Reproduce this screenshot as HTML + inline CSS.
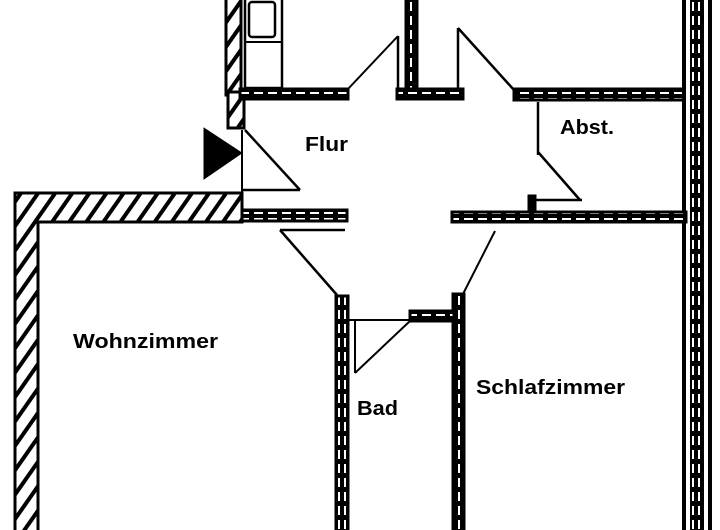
<!DOCTYPE html>
<html><head><meta charset="utf-8"><style>
html,body{margin:0;padding:0;background:#fff;width:720px;height:530px;overflow:hidden}
text{font-family:"Liberation Sans",sans-serif;font-weight:bold;fill:#000}
</style></head><body>
<svg width="720" height="530" viewBox="0 0 720 530" xmlns="http://www.w3.org/2000/svg">
<defs>
<pattern id="h" width="14" height="14" patternUnits="userSpaceOnUse" patternTransform="rotate(35)">
<rect width="14" height="14" fill="#fff"/><rect width="4" height="14" fill="#000"/>
</pattern>
<pattern id="d" width="14" height="6" patternUnits="userSpaceOnUse">
<rect width="14" height="6" fill="#000"/><rect x="2" y="2" width="9" height="2" fill="#fff"/>
</pattern>
<pattern id="v" width="6" height="14" patternUnits="userSpaceOnUse">
<rect width="6" height="14" fill="#000"/><rect x="2" y="2" width="2" height="9" fill="#fff"/>
</pattern>
</defs>
<g stroke="#000" stroke-width="3" fill="none">
<rect x="226" y="-5" width="15" height="100" fill="url(#h)"/>
<rect x="228" y="92" width="16" height="36" fill="url(#h)"/>
<rect x="245" y="-5" width="37" height="93" stroke-width="2.5"/>
<rect x="249" y="2" width="26" height="35" rx="3" stroke-width="2.5"/>
<line x1="245" y1="42" x2="282" y2="42" stroke-width="2"/>
<rect x="240" y="89" width="108" height="10" fill="url(#d)"/>
<line x1="348" y1="89" x2="398" y2="36" stroke-width="2"/>
<line x1="398" y1="36" x2="398" y2="90" stroke-width="2.5"/>
<rect x="406" y="-5" width="11" height="95" fill="url(#v)"/>
<rect x="397" y="89" width="66" height="10" fill="url(#d)"/>
<line x1="458" y1="28" x2="458" y2="88" stroke-width="2.5"/>
<line x1="458" y1="28" x2="514" y2="90" stroke-width="2.5"/>
<rect x="514" y="89" width="172" height="11" fill="url(#d)"/>
<rect x="684" y="-5" width="26" height="540" fill="#fff" stroke-width="4"/>
<rect x="690" y="-5" width="14" height="540" fill="url(#v)" stroke="none"/>
<line x1="538" y1="102" x2="538" y2="155" stroke-width="2.5"/>
<line x1="538" y1="152" x2="580" y2="200" stroke-width="2.5"/>
<line x1="530" y1="200" x2="582" y2="200" stroke-width="2.5"/>
<rect x="529" y="196" width="6" height="16" fill="#000"/>
<rect x="452" y="212" width="234" height="10" fill="url(#d)"/>
<line x1="242" y1="130" x2="242" y2="195" stroke-width="2"/>
<line x1="245" y1="130" x2="300" y2="190" stroke-width="2.5"/>
<line x1="242" y1="190" x2="300" y2="190" stroke-width="2.5"/>
<polygon points="205,130 240,153 205,177" fill="#000"/>
<path d="M15,193 L242,193 L242,222 L38,222 L38,535 L15,535 Z" fill="url(#h)"/>
<rect x="242" y="210" width="105" height="11" fill="url(#d)"/>
<line x1="280" y1="230" x2="337" y2="295" stroke-width="2.5"/>
<line x1="280" y1="230" x2="345" y2="230" stroke-width="2.5"/>
<rect x="336" y="296" width="12" height="240" fill="url(#v)"/>
<rect x="453" y="294" width="11" height="242" fill="url(#v)"/>
<line x1="348" y1="320" x2="410" y2="320" stroke-width="2"/>
<rect x="410" y="311" width="44" height="10" fill="url(#d)"/>
<line x1="355" y1="320" x2="355" y2="373" stroke-width="2"/>
<line x1="355" y1="373" x2="410" y2="321" stroke-width="2"/>
<line x1="495" y1="231" x2="462" y2="296" stroke-width="2"/>
</g>
<text x="305" y="151" font-size="20" textLength="43" lengthAdjust="spacingAndGlyphs">Flur</text>
<text x="560" y="134" font-size="20" textLength="54" lengthAdjust="spacingAndGlyphs">Abst.</text>
<text x="73" y="348" font-size="20" textLength="145" lengthAdjust="spacingAndGlyphs">Wohnzimmer</text>
<text x="357" y="415" font-size="20" textLength="41" lengthAdjust="spacingAndGlyphs">Bad</text>
<text x="476" y="394" font-size="20" textLength="149" lengthAdjust="spacingAndGlyphs">Schlafzimmer</text>
</svg>
</body></html>
